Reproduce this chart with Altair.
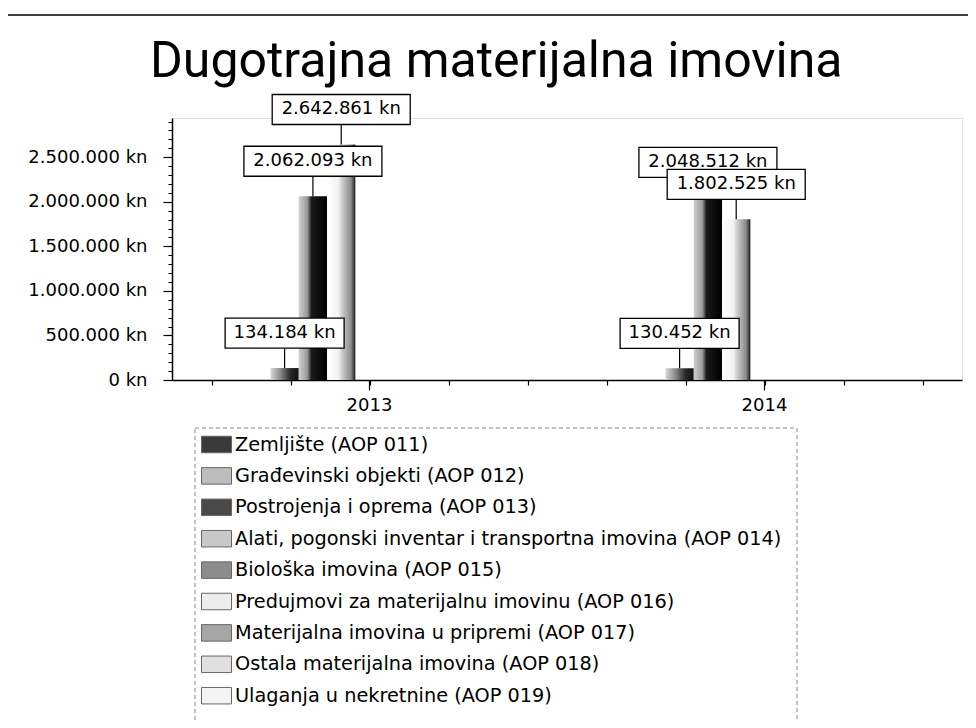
import altair as alt
import pandas as pd

# ---------------- data ----------------
title_text = "Dugotrajna materijalna imovina"
years = ["2013", "2014"]
series = [
    "Zemljište (AOP 011)",
    "Građevinski objekti (AOP 012)",
    "Postrojenja i oprema (AOP 013)",
    "Alati, pogonski inventar i transportna imovina (AOP 014)",
    "Biološka imovina (AOP 015)",
    "Predujmovi za materijalnu imovinu (AOP 016)",
    "Materijalna imovina u pripremi (AOP 017)",
    "Ostala materijalna imovina (AOP 018)",
    "Ulaganja u nekretnine (AOP 019)",
]
values_2013 = [134184, 2062093, 2642861, 0, 0, 0, 0, 0, 0]
values_2014 = [130452, 2048512, 1802525, 0, 0, 0, 0, 0, 0]
y_ticks = [0, 500000, 1000000, 1500000, 2000000, 2500000]

rows = []
for yr, vals in zip(years, [values_2013, values_2014]):
    for s, v in zip(series, vals):
        rows.append({"year": yr, "series": s, "value": v})
df = pd.DataFrame(rows)

# ---------------- styles ----------------
FONT = "DejaVu Sans"
legend_greys = ["#3a3a3a", "#bdbdbd", "#4a4a4a", "#c8c8c8", "#8c8c8c",
                "#ececec", "#a6a6a6", "#e0e0e0", "#f4f4f4"]
grad_stops = [
    [("#d8d8d8", 0), ("#8a8a8a", 0.35), ("#2a2a2a", 0.7), ("#111111", 1)],
    [("#cfcfcf", 0), ("#9a9a9a", 0.3), ("#1a1a1a", 0.45), ("#000000", 1)],
    [("#ffffff", 0), ("#f2f2f2", 0.4), ("#c8c8c8", 0.55), ("#8a8a8a", 0.85), ("#1a1a1a", 1)],
]
box_widths = [119, 138, 138]
offset_domain = ["_p1", "_p2", "_p3"] + series + ["_p4"]

YMAX = 2940000

x_enc = alt.X(
    "year:N",
    scale=alt.Scale(domain=years, paddingInner=0, paddingOuter=0),
    axis=alt.Axis(title=None, labelAngle=0, tickSize=10, labelPadding=6,
                  labelFontSize=18, labelFont=FONT, labelColor="black",
                  domainColor="black", domainWidth=1.5, tickColor="black",
                  tickWidth=1.2, grid=False),
)
xoff_enc = alt.XOffset(
    "series:N",
    scale=alt.Scale(domain=offset_domain, paddingInner=0, paddingOuter=0.48),
)
y_enc = alt.Y(
    "value:Q",
    scale=alt.Scale(domain=[0, YMAX], nice=False),
    axis=alt.Axis(
        title=None, values=y_ticks, grid=False, tickSize=9, labelPadding=16,
        labelFontSize=18, labelFont=FONT, labelColor="black",
        domainColor="black", domainWidth=1.5, tickColor="black", tickWidth=1.2,
        labelExpr="replace(format(datum.value, ','), regexp(',', 'g'), '.') + ' kn'",
    ),
)

base = alt.Chart(df).encode(x=x_enc, xOffset=xoff_enc, y=y_enc)

layers = []

# bars with per-series gradients
for i, s in enumerate(series):
    stops = grad_stops[i] if i < len(grad_stops) else [("#ffffff", 0), ("#cccccc", 1)]
    grad = alt.Gradient(
        gradient="linear",
        stops=[alt.GradientStop(color=c, offset=o) for c, o in stops],
        x1=0, x2=1, y1=0, y2=0,
    )
    layers.append(
        base.transform_filter(alt.datum.series == s).mark_bar(color=grad)
    )

# leader lines
labeled = base.transform_filter(alt.datum.value > 0).transform_calculate(
    label="replace(format(datum.value, ','), regexp(',', 'g'), '.') + ' kn'"
)
layers.append(
    labeled.mark_rule(color="black", strokeWidth=1.2, y2Offset=-20).encode(y2="value:Q")
)

# label boxes + texts, series by series
for i, s in enumerate(series[:3]):
    sub = labeled.transform_filter(alt.datum.series == s)
    layers.append(
        sub.mark_bar(width=box_widths[i], fill="white", stroke="black",
                     strokeWidth=1.3, yOffset=-50, y2Offset=-20).encode(y2="value:Q")
    )
    layers.append(
        sub.mark_text(font=FONT, fontSize=18, color="black", baseline="middle",
                      align="center", dy=-35).encode(text="label:N")
    )

# legend (from an invisible layer)
legend_layer = alt.Chart(pd.DataFrame({"series": series})).mark_square(opacity=0).encode(
    x=alt.value(0), y=alt.value(0),
    color=alt.Color(
        "series:N",
        scale=alt.Scale(domain=series, range=legend_greys),
        legend=alt.Legend(
            title=None, orient="none", legendX=23, legendY=305,
            labelFont=FONT, labelFontSize=19.3, labelColor="black", labelLimit=800,
            symbolType="M-1,-0.55L1,-0.55L1,0.55L-1,0.55Z", symbolSize=900,
            symbolStrokeColor="#666666", symbolStrokeWidth=1, symbolOpacity=1,
            rowPadding=5.4, labelOffset=3, padding=6,
        ),
    ),
)
layers.append(legend_layer)

# decorations: outer frame, dashed legend box, title text
one = pd.DataFrame({"k": [0]})
frame = alt.Chart(one).mark_rect(fillOpacity=0, stroke="black", strokeWidth=1.5).encode(
    x=alt.value(-167), x2=alt.value(800), y=alt.value(-103), y2=alt.value(620)
)
legend_box = alt.Chart(one).mark_rect(
    fillOpacity=0, stroke="#888888", strokeWidth=1, strokeDash=[4, 3]
).encode(x=alt.value(23), x2=alt.value(625), y=alt.value(310), y2=alt.value(610))
title_mark = alt.Chart(one).mark_text(
    text=title_text, font="Roboto", fontSize=50, color="black",
    align="left", baseline="alphabetic",
).encode(x=alt.value(-22), y=alt.value(-41))
layers += [frame, legend_box, title_mark]

main = alt.layer(*layers)

# minor ticks (independent axes on the same sides)
minor = alt.Chart(one).mark_point(opacity=0).transform_calculate(
    mx="5", my="0"
).encode(
    x=alt.X("mx:Q", scale=alt.Scale(domain=[0, 10], nice=False),
            axis=alt.Axis(orient="bottom", values=[k + 0.5 for k in range(10)],
                          labels=False, domain=False, tickSize=5, tickColor="black",
                          tickWidth=1.2, title=None, grid=False)),
    y=alt.Y("my:Q", scale=alt.Scale(domain=[0, YMAX], nice=False),
            axis=alt.Axis(orient="left", values=list(range(0, 2900001, 100000)),
                          labels=False, domain=False, tickSize=4, tickColor="black",
                          tickWidth=1, title=None, grid=False)),
)

chart = alt.layer(main, minor).resolve_scale(x="independent", y="independent").properties(
    width=790,
    height=262,
    autosize=alt.AutoSizeParams(type="none"),
    padding={"left": 164, "top": 110, "right": 6, "bottom": 340},
).configure_view(stroke="transparent").configure(background="white")

chart.save("out.html", embed_options={"renderer": "svg", "actions": False})
